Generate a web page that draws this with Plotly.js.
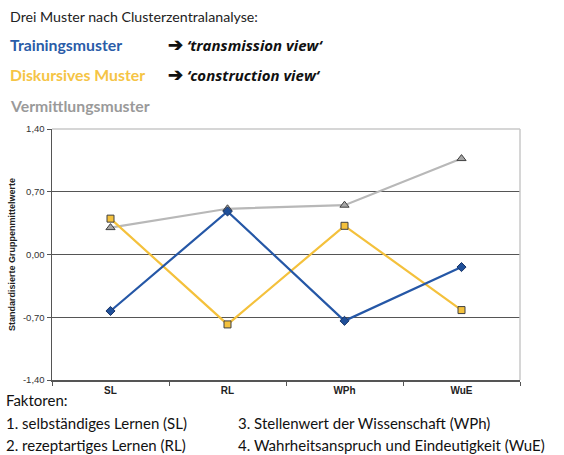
<!DOCTYPE html>
<html><head><meta charset="utf-8">
<script src="https://cdn.plot.ly/plotly-3.0.1.min.js"></script>
<style>html,body{margin:0;padding:0;background:#fff;}#chart{width:564px;height:455px;}</style>
</head><body><div id="chart"></div>
<script>
const categories = ["SL", "RL", "WPh", "WuE"];
const trainingsmuster = [-0.63, 0.48, -0.74, -0.14];
const diskursives = [0.40, -0.78, 0.32, -0.62];
const vermittlung = [0.30, 0.51, 0.55, 1.07];
const yTickVals = [-1.4, -0.7, 0, 0.7, 1.4];
const yTickText = ["-1,40", "-0,70", "0,00", "0,70", "1,40"];

const W = 564, H = 455, L = 52, R = 520, T = 129, B = 380;
const px = x => (x - L) / (R - L);
const py = y => (B - y) / (B - T);

const traces = [
  {x: categories, y: vermittlung, type: "scatter", mode: "lines+markers", name: "Vermittlungsmuster",
   line: {color: "#b8b8b8", width: 2.2}, marker: {symbol: "triangle-up", size: 8, color: "#a6a6a6", line: {color: "#404040", width: 1}}},
  {x: categories, y: diskursives, type: "scatter", mode: "lines+markers", name: "Diskursives Muster",
   line: {color: "#f4c13c", width: 2.2}, marker: {symbol: "square", size: 7, color: "#f4c13c", line: {color: "#404040", width: 1}}},
  {x: categories, y: trainingsmuster, type: "scatter", mode: "lines+markers", name: "Trainingsmuster",
   line: {color: "#2557a6", width: 2.2}, marker: {symbol: "diamond", size: 7, color: "#1f4f99", line: {color: "#1a3566", width: 1}}}
];

const txtFont = "Lato, 'Open Sans', sans-serif";
const viewFont = "'Open Sans', Lato, sans-serif";
function ann(x, y, text, opts) {
  return Object.assign({xref: "paper", yref: "paper", x: px(x), y: py(y), text: text, showarrow: false,
    xanchor: "left", yanchor: "middle", font: {family: txtFont, size: 14, color: "#222"}}, opts || {});
}
const annotations = [
  ann(8, 17, "Drei Muster nach Clusterzentralanalyse:", {font: {family: txtFont, size: 14.2, color: "#222"}}),
  ann(8, 44, "<b>Trainingsmuster</b>", {font: {family: txtFont, size: 15.8, color: "#2a5ca8"}}),
  ann(166, 44, "<b><span style='font-size:18px'>➔</span> <i>‘transmission view‘</i></b>", {font: {family: viewFont, size: 15, color: "#111"}}),
  ann(8, 74, "<b>Diskursives Muster</b>", {font: {family: txtFont, size: 15.8, color: "#f5c445"}}),
  ann(166, 74, "<b><span style='font-size:18px'>➔</span> <i>‘construction view‘</i></b>", {font: {family: viewFont, size: 15, color: "#111"}}),
  ann(8, 105, "<b>Vermittlungsmuster</b>", {font: {family: txtFont, size: 15.8, color: "#9a9a9a"}}),
  ann(4, 400, "Faktoren:", {font: {family: txtFont, size: 15, color: "#111"}}),
  ann(4, 423, "1. selbständiges Lernen (SL)", {font: {family: txtFont, size: 15, color: "#111"}}),
  ann(4, 445, "2. rezeptartiges Lernen (RL)", {font: {family: txtFont, size: 15, color: "#111"}}),
  ann(236, 423, "3. Stellenwert der Wissenschaft (WPh)", {font: {family: txtFont, size: 15, color: "#111"}}),
  ann(236, 445, "4. Wahrheitsanspruch und Eindeutigkeit (WuE)", {font: {family: txtFont, size: 15, color: "#111"}})
];

const layout = {
  width: W, height: H,
  margin: {l: L, r: W - R, t: T, b: H - B, pad: 0},
  paper_bgcolor: "#fff", plot_bgcolor: "#fff",
  showlegend: false,
  xaxis: {type: "category", range: [-0.5, 3.5], tickson: "boundaries", ticks: "outside", ticklen: 4, tickcolor: "#555",
    showline: true, linecolor: "#555", linewidth: 1.5, showgrid: false, zeroline: false,
    tickfont: {family: "'Liberation Sans', Arial, sans-serif", size: 10, color: "#222", weight: "bold"}, fixedrange: true},
  yaxis: {range: [-1.4, 1.4], tickvals: yTickVals, ticktext: yTickText, ticks: "outside", ticklen: 4, tickcolor: "#555",
    showline: true, linecolor: "#555", linewidth: 1.5, showgrid: true, gridcolor: "#555", gridwidth: 1.2, zeroline: false,
    tickfont: {family: "'Liberation Sans', Arial, sans-serif", size: 9.5, color: "#333"},
    title: {text: "<b>Standardisierte Gruppenmittelwerte</b>", font: {family: "'Liberation Sans', Arial, sans-serif", size: 9, color: "#222"}, standoff: 6},
    fixedrange: true},
  shapes: [
    {type: "line", xref: "paper", yref: "paper", x0: 0, x1: 1, y0: 1, y1: 1, line: {color: "#c8c8c8", width: 1.5}},
    {type: "line", xref: "paper", yref: "paper", x0: 1, x1: 1, y0: 0, y1: 1, line: {color: "#c8c8c8", width: 1.5}}
  ],
  annotations: annotations
};
Plotly.newPlot("chart", traces, layout, {displayModeBar: false, staticPlot: true});
</script></body></html>
